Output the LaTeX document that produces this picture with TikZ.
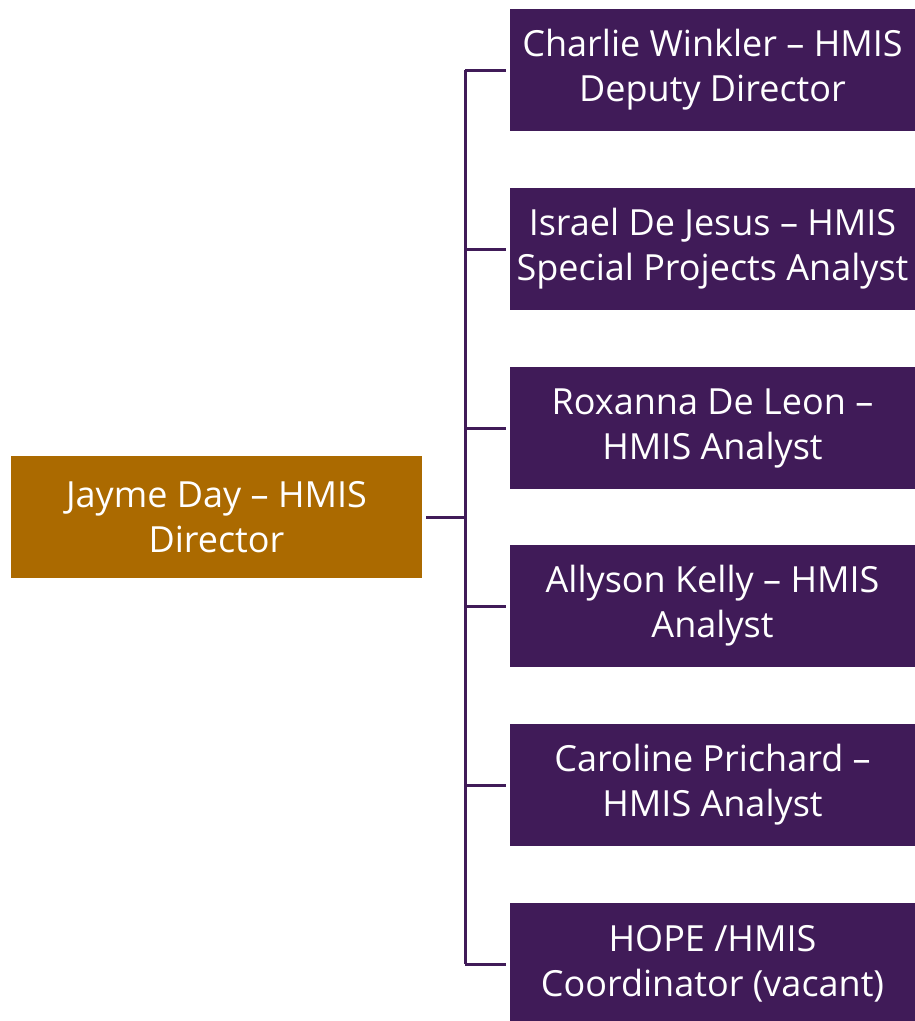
\documentclass[tikz,border=0pt]{standalone}
\usepackage{fontspec}
\setmainfont{Open Sans}
\definecolor{staffpurple}{HTML}{401B58}
\definecolor{headbrown}{HTML}{AB6A00}
\tikzset{
  person/.style={fill=staffpurple, text=white, minimum width=405pt, minimum height=122pt,
    align=center, inner sep=0pt, font=\fontsize{36}{45}\selectfont},
  head/.style={person, fill=headbrown, minimum width=411pt},
  orgline/.style={draw=staffpurple, line width=3pt}
}
\begin{document}
\begin{tikzpicture}[x=1pt,y=-1pt]
\useasboundingbox (0,0) rectangle (915,1021);
\node[head] (jayme) at (216.5,517) {Jayme Day -- HMIS\\Director};

\node[person] (charlie) at (712.5,70) {Charlie Winkler -- HMIS\\Deputy Director};
\node[person] (israel) at (712.5,249) {Israel De Jesus -- HMIS\\Special Projects Analyst};
\node[person] (roxanna) at (712.5,428) {Roxanna De Leon --\\HMIS Analyst};
\node[person] (allyson) at (712.5,606) {Allyson Kelly -- HMIS\\Analyst};
\node[person] (caroline) at (712.5,785) {Caroline Prichard --\\HMIS Analyst};
\node[person] (hope) at (712.5,964) {HOPE /HMIS\\Coordinator (vacant)};

\coordinate (bus) at (465,517);
\draw[orgline, shorten <=4pt] (jayme.east) -- (bus);
\draw[orgline] (bus |- charlie.west) -- (bus |- hope.west);
\draw[orgline, shorten >=4pt] (bus |- charlie.west) -- (charlie.west);
\draw[orgline, shorten >=4pt] (bus |- israel.west) -- (israel.west);
\draw[orgline, shorten >=4pt] (bus |- roxanna.west) -- (roxanna.west);
\draw[orgline, shorten >=4pt] (bus |- allyson.west) -- (allyson.west);
\draw[orgline, shorten >=4pt] (bus |- caroline.west) -- (caroline.west);
\draw[orgline, shorten >=4pt] (bus |- hope.west) -- (hope.west);
\end{tikzpicture}
\end{document}
